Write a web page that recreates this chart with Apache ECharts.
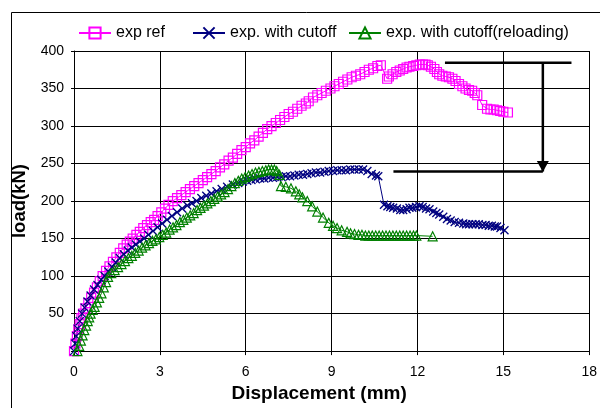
<!DOCTYPE html>
<html>
<head>
<meta charset="utf-8">
<script src="https://cdn.jsdelivr.net/npm/echarts@6/dist/echarts.min.js"></script>
<style>html,body{margin:0;padding:0;background:#fff;}#c{width:600px;height:408px;}</style>
</head>
<body>
<div id="c"></div>
<script>
var seriesNames = ['exp ref', 'exp. with cutoff', 'exp. with cutoff(reloading)'];
var xTicks = [0, 3, 6, 9, 12, 15, 18];
var yTicks = [50, 100, 150, 200, 250, 300, 350, 400];

var expRef = [
[0,0],[0.05,10],[0.1,20],[0.15,29],[0.2,36],[0.26,44],[0.32,50],[0.4,57],[0.5,64],[0.6,71],
[0.7,78],[0.8,85],[0.9,93],[1.0,100],[1.12,107],[1.24,113],[1.36,119],[1.48,125],[1.6,131],[1.72,137],
[1.84,142],[1.95,146],[2.05,150],[2.18,155],[2.3,159],[2.42,164],[2.55,168],[2.68,172],[2.8,175],[2.92,180],
[3.05,185],[3.18,190],[3.3,195],[3.45,200],[3.6,204],[3.75,208],[3.9,212],[4.05,216],[4.2,220],[4.35,224],
[4.5,228],[4.65,232],[4.8,236],[4.95,240],[5.1,245],[5.25,249],[5.4,254],[5.55,258],[5.7,263],[5.85,268],
[6.0,272],[6.15,277],[6.3,281],[6.45,286],[6.6,291],[6.75,296],[6.9,300],[7.05,304],[7.2,308],[7.35,312],
[7.5,316],[7.65,319],[7.8,323],[7.95,327],[8.1,330],[8.2,333],[8.35,338],[8.5,341],[8.65,344],[8.8,347],
[8.96,350],[9.1,353],[9.25,356],[9.4,359],[9.55,362],[9.7,365],[9.85,367],[10.0,369],[10.15,372],[10.3,375],
[10.45,377],[10.6,380],[10.72,381],[10.94,363],[11.0,366],[11.13,369],[11.26,372],[11.38,374],[11.5,376],[11.62,378],
[11.72,379],[11.85,380],[11.96,381],[12.08,382],[12.19,382],[12.28,382],[12.36,381],[12.47,379],[12.59,376],[12.68,372],
[12.76,369],[12.87,367],[12.99,366],[13.1,365],[13.22,363],[13.33,360],[13.45,356],[13.57,353],[13.68,350],[13.8,348],
[13.91,347],[14.0,344],[14.09,341],[14.26,328],[14.43,323],[14.55,322],[14.66,322],[14.78,321],[14.89,320],[15.0,319],
[15.16,318]
];

var expCutoff = [
[0,0],[0.04,10],[0.08,20],[0.13,30],[0.2,40],[0.28,50],[0.37,58],[0.47,66],[0.58,74],[0.7,82],
[0.82,88],[0.95,95],[1.07,100],[1.2,106],[1.33,112],[1.46,118],[1.6,124],[1.74,129],[1.88,134],[2.02,138],
[2.16,142],[2.3,146],[2.45,150],[2.6,155],[2.76,160],[2.92,165],[3.08,170],[3.25,175],[3.42,180],[3.6,185],
[3.78,190],[3.96,194],[4.12,197],[4.28,200],[4.45,204],[4.62,207],[4.8,210],[4.98,213],[5.16,216],[5.35,219],
[5.55,222],[5.74,224],[5.9,226],[6.05,227],[6.2,228],[6.35,229],[6.5,230],[6.65,230],[6.8,231],[6.95,231],
[7.1,232],[7.25,232],[7.4,233],[7.55,233],[7.7,234],[7.85,235],[8.0,235],[8.15,236],[8.3,237],[8.45,238],
[8.6,238],[8.75,239],[8.9,240],[9.05,240],[9.2,241],[9.35,241],[9.5,241],[9.65,242],[9.8,242],[9.95,242],
[10.1,242],[10.25,240],[10.4,236],[10.55,234],[10.63,233],[10.83,195],[10.95,193],[11.05,192],[11.15,191],[11.28,190],
[11.4,188],[11.5,188],[11.62,189],[11.72,191],[11.82,191],[11.95,192],[12.07,193],[12.18,192],[12.3,190],[12.42,189],
[12.55,186],[12.66,184],[12.76,182],[12.9,179],[13.03,176],[13.16,174],[13.3,172],[13.45,171],[13.6,170],[13.7,169],
[13.8,169],[13.92,169],[14.03,169],[14.14,169],[14.27,168],[14.38,168],[14.49,167],[14.6,167],[14.7,166],[14.78,166],
[14.9,164],[15.04,161]
];

var expReload = [
[0.12,0],[0.18,7],[0.24,14],[0.3,21],[0.36,28],[0.42,34],[0.48,40],[0.53,45],[0.58,50],[0.65,55],
[0.72,59],[0.8,65],[0.88,71],[0.96,77],[1.04,85],[1.12,92],[1.19,99],[1.3,104],[1.42,108],[1.54,112],
[1.66,116],[1.78,120],[1.9,124],[2.02,127],[2.14,131],[2.26,134],[2.38,138],[2.5,141],[2.62,144],[2.74,147],
[2.86,149],[2.98,152],[3.1,155],[3.22,158],[3.34,162],[3.46,165],[3.58,168],[3.7,172],[3.82,175],[3.94,178],
[4.06,181],[4.18,184],[4.3,188],[4.42,191],[4.54,194],[4.66,197],[4.78,200],[4.9,203],[5.02,206],[5.14,209],
[5.26,212],[5.38,216],[5.5,220],[5.62,224],[5.74,227],[5.86,230],[5.98,232],[6.1,234],[6.22,236],[6.34,238],
[6.46,239],[6.58,240],[6.7,241],[6.8,242],[6.9,242],[7.0,242],[7.08,240],[7.18,235],[7.23,220],[7.4,219],
[7.58,217],[7.75,213],[7.87,209],[7.98,205],[8.15,200],[8.32,193],[8.5,186],[8.7,178],[8.9,171],[9.05,167],
[9.19,164],[9.35,161],[9.54,159],[9.66,157],[9.8,156],[9.94,155],[10.06,155],[10.18,154],[10.3,154],[10.42,154],
[10.54,154],[10.66,154],[10.78,154],[10.9,154],[11.02,154],[11.14,154],[11.26,154],[11.38,154],[11.5,154],[11.62,154],
[11.74,154],[11.86,154],[11.96,154],[12.53,153]
];

var arrowTopLine = [[12.96,384.5],[17.38,384.5]];
var arrowBottomLine = [[11.16,239.4],[16.38,239.4]];
var arrowShaft = [[16.38,384.5],[16.38,239.4]];

var FONT = "'Liberation Sans', Arial, sans-serif";
var chart = echarts.init(document.getElementById('c'), null, {renderer: 'canvas'});

function mk(name, data, color, symbol, size, bw) {
  return {
    name: name, type: 'line', data: data, smooth: false,
    symbol: symbol, symbolSize: size, showAllSymbol: true, showSymbol: true,
    lineStyle: {color: color, width: 1},
    itemStyle: {color: 'rgba(0,0,0,0)', borderColor: color, borderWidth: bw},
    emphasis: {disabled: true}, animation: false, z: 3
  };
}
function legendAt(name, left) {
  return {
    data: [name], left: left, top: 25, padding: 0,
    itemWidth: 32, itemHeight: 14, itemGap: 0,
    textStyle: {fontFamily: FONT, fontSize: 16, color: '#000'},
    selectedMode: false
  };
}

var option = {
  backgroundColor: '#fff',
  animation: false,
  graphic: [{
    type: 'rect', shape: {x: 11.5, y: 12.5, width: 620, height: 420},
    style: {fill: 'none', stroke: '#000', lineWidth: 1}, silent: true, z: -1
  }],
  legend: [
    legendAt(seriesNames[0], 78),
    legendAt(seriesNames[1], 192),
    legendAt(seriesNames[2], 348)
  ],
  grid: {left: 74, top: 51, right: 5, bottom: 56, containLabel: false},
  xAxis: {
    type: 'value', min: xTicks[0], max: xTicks[xTicks.length - 1], interval: 3,
    name: 'Displacement (mm)', nameLocation: 'middle', nameGap: 32,
    nameTextStyle: {fontFamily: FONT, fontSize: 19, fontWeight: 'bold', color: '#000', padding: [0, 25, 0, 0]},
    axisLine: {show: true, lineStyle: {color: '#000', width: 1}},
    axisTick: {show: true, length: 4, lineStyle: {color: '#000'}},
    axisLabel: {fontFamily: FONT, fontSize: 14, color: '#000', margin: 14},
    splitLine: {show: true, lineStyle: {color: '#000', width: 1}}
  },
  yAxis: {
    type: 'value', min: 0, max: yTicks[yTicks.length - 1], interval: 50,
    name: 'load(kN)', nameLocation: 'middle', nameGap: 39, nameRotate: 90,
    nameTextStyle: {fontFamily: FONT, fontSize: 18.5, fontWeight: 'bold', color: '#000'},
    axisLine: {show: true, lineStyle: {color: '#000', width: 1}},
    axisTick: {show: true, length: 3, lineStyle: {color: '#000'}},
    axisLabel: {fontFamily: FONT, fontSize: 14, color: '#000', margin: 10,
      formatter: function (v) { return v === 0 ? '' : String(v); }},
    splitLine: {show: true, lineStyle: {color: '#000', width: 1}}
  },
  series: [
    mk(seriesNames[0], expRef, '#FF00FF', 'rect', 9, 1.2),
    mk(seriesNames[1], expCutoff, '#000080', 'path://M0,0L10,10M10,0L0,10', 8, 1.3),
    mk(seriesNames[2], expReload, '#008000', 'triangle', 9, 1.2),
    {type: 'line', data: arrowTopLine, symbol: 'none', lineStyle: {color: '#000', width: 2.5}, silent: true, z: 4},
    {type: 'line', data: arrowBottomLine, symbol: 'none', lineStyle: {color: '#000', width: 2.5}, silent: true, z: 4},
    {type: 'line', data: [
        {value: arrowShaft[0], symbol: 'none'},
        {value: arrowShaft[1], symbol: 'path://M0,0L12,0L6,11Z', symbolSize: [12, 11], symbolOffset: [0, -5]}
      ],
      showSymbol: true, lineStyle: {color: '#000', width: 2.5}, itemStyle: {color: '#000'}, silent: true, z: 4}
  ]
};
chart.setOption(option);
</script>
</body>
</html>
